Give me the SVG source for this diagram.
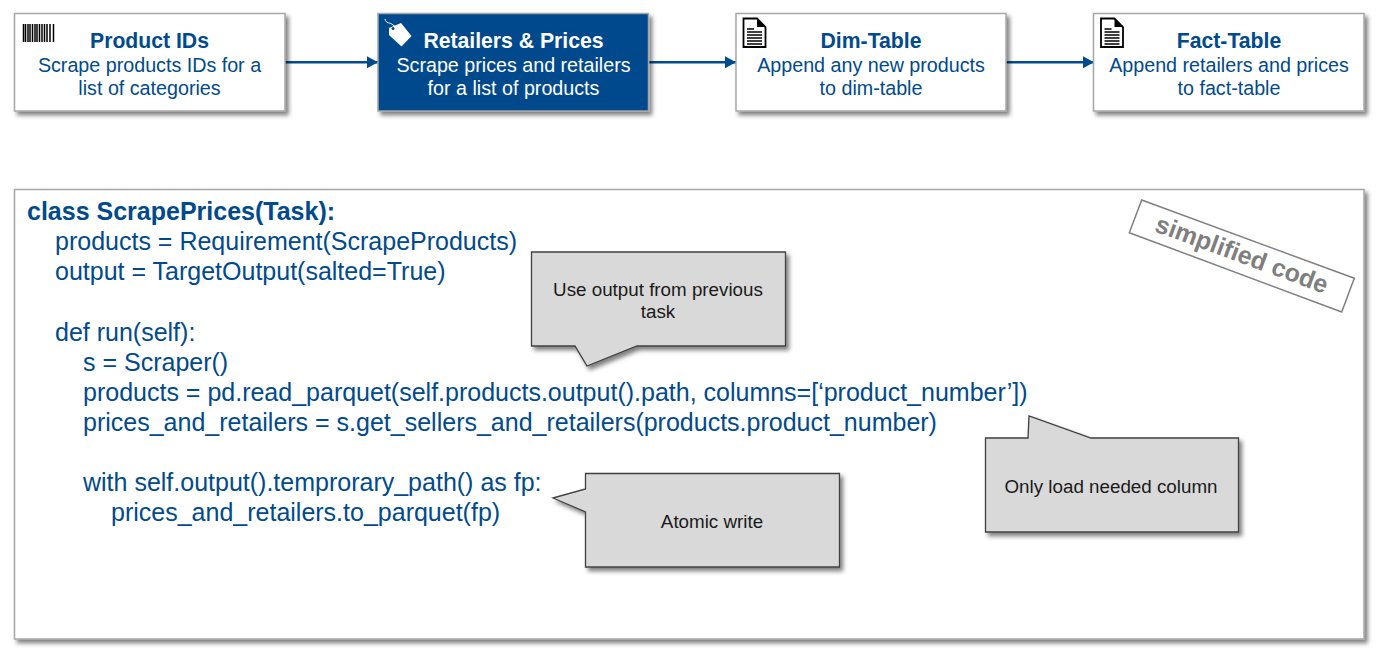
<svg xmlns="http://www.w3.org/2000/svg" width="1386" height="657" viewBox="0 0 1386 657">
<style>
text{font-family:"Liberation Sans",Arial,sans-serif}
.box{fill:#fff;stroke:#a6a6a6;stroke-width:1.5;filter:url(#sh)}
.dark{fill:#004a8d}
.t{font-size:21.2px;font-weight:700;fill:#004a8d;text-anchor:middle}
.s{font-size:19.700px;fill:#004a8d;text-anchor:middle}
.w{fill:#fff}
.c{font-size:25px;fill:#004a8d}
.n{fill:#d9d9d9;stroke:#404040;stroke-width:1.3;filter:url(#sh)}
.nt{font-size:18.800px;fill:#1a1a1a;text-anchor:middle}
.cn{stroke:#004a8d;stroke-width:2.5;fill:none;marker-end:url(#ah)}
</style>
<defs>
<filter id="sh" x="-5%" y="-10%" width="112%" height="125%"><feDropShadow dx="3" dy="3.5" stdDeviation="2.2" flood-color="#000" flood-opacity=".5"/></filter>
<marker id="ah" markerUnits="userSpaceOnUse" markerWidth="12" markerHeight="13" refX="11" refY="6.500" orient="auto"><path d="M0 .5L11 6.500L0 12.500Z" fill="#004a8d"/></marker>
</defs>
<rect width="1386" height="657" fill="#fff"/>
<g id="connectors">
<path class="cn" d="M284 62.300H378"/>
<path class="cn" d="M648 62.300H736"/>
<path class="cn" d="M1005 62.300H1094"/>
</g>
<g id="product-ids">
<rect class="box" x="14.500" y="13.500" width="270.500" height="97.500"/>
<path d="M23.500 24V42M25.500 24V42M28 24V42M30 24V42M32.500 24V42M35 24V42M37 24V42M39.500 24V42M42 24V42M44.500 24V42M47 24V42M50 24V42M53.500 24V42" stroke="#000" stroke-width="1.500"/>
<text class="t" x="149.500" y="47.500">Product IDs</text>
<text class="s" x="149.500" y="71.700">Scrape products IDs for a</text>
<text class="s" x="149.500" y="94.700">list of categories</text>
</g>
<g id="retailers-prices">
<rect class="box dark" x="378" y="13.500" width="270.500" height="97.500"/>
<path d="M389 28L401 23L411.500 36L401.500 46.500L389 35Z" fill="#fff"/>
<circle cx="393" cy="28.500" r="1.500" fill="#004a8d"/>
<path d="M385 19C386 24 390 22 393 25L396 27" fill="none" stroke="#fff" stroke-width="1"/>
<text class="t w" x="513.500" y="47.500">Retailers &amp; Prices</text>
<text class="s w" x="513.500" y="71.700">Scrape prices and retailers</text>
<text class="s w" x="513.500" y="94.700">for a list of products</text>
</g>
<g id="dim-table">
<rect class="box" x="736" y="13.500" width="270" height="97.500"/>
<path d="M743.500 18.500H757L765.500 27V47H743.500Z" fill="#fff" stroke="#000" stroke-width="1.800"/>
<path d="M757 18.500V27H765.500Z" fill="#000"/>
<path d="M747 29H754M747 32H762M747 35H762M747 38H762M747 41H762M747 44H762" stroke="#000" stroke-width="1.300"/>
<text class="t" x="871" y="47.500">Dim-Table</text>
<text class="s" x="871" y="71.700">Append any new products</text>
<text class="s" x="871" y="94.700">to dim-table</text>
</g>
<g id="fact-table">
<rect class="box" x="1093.500" y="13.500" width="270.500" height="97.500"/>
<path d="M1101 18.500H1114.500L1123 27V47H1101Z" fill="#fff" stroke="#000" stroke-width="1.800"/>
<path d="M1114.500 18.500V27H1123Z" fill="#000"/>
<path d="M1104.500 29H1111.500M1104.500 32H1119.500M1104.500 35H1119.500M1104.500 38H1119.500M1104.500 41H1119.500M1104.500 44H1119.500" stroke="#000" stroke-width="1.300"/>
<text class="t" x="1229" y="47.500">Fact-Table</text>
<text class="s" x="1229" y="71.700">Append retailers and prices</text>
<text class="s" x="1229" y="94.700">to fact-table</text>
</g>
<g id="code-panel">
<rect class="box" x="14.500" y="189.500" width="1349.500" height="449.500"/>
<text class="c" x="27" y="219.700" font-weight="700">class ScrapePrices(Task):</text>
<text class="c" x="55" y="249.700">products = Requirement(ScrapeProducts)</text>
<text class="c" x="55" y="279.700">output = TargetOutput(salted=True)</text>
<text class="c" x="55" y="340.500">def run(self):</text>
<text class="c" x="83" y="370.700">s = Scraper()</text>
<text class="c" x="83" y="400.700">products = pd.read_parquet(self.products.output().path, columns=[‘product_number’])</text>
<text class="c" x="83" y="430.700">prices_and_retailers = s.get_sellers_and_retailers(products.product_number)</text>
<text class="c" x="83" y="490.700">with self.output().temprorary_path() as fp:</text>
<text class="c" x="111" y="521">prices_and_retailers.to_parquet(fp)</text>
</g>
<g id="simplified-code">
<path d="M1141.700 200L1354.300 278.300L1341.700 312L1129.300 232.700Z" fill="none" stroke="#7f7f7f" stroke-width="1.500"/>
<text x="0" y="0" transform="translate(1239 262.300) rotate(20.200)" font-size="25" font-weight="700" fill="#7f7f7f" text-anchor="middle">simplified code</text>
</g>
<g id="note-previous">
<path class="n" d="M531.500 252H785.500V346H637L587 366L575 346H531.500Z"/>
<text class="nt" x="658" y="295.500">Use output from previous</text>
<text class="nt" x="658" y="317.500">task</text>
</g>
<g id="note-atomic">
<path class="n" d="M585.500 473.500H839.500V567H585.500V512L553 498L585.500 489Z"/>
<text class="nt" x="712" y="527.500">Atomic write</text>
</g>
<g id="note-column">
<path class="n" d="M985.500 438H1028L1029 416L1091 438H1238.500V532H985.500Z"/>
<text class="nt" x="1111" y="492.500">Only load needed column</text>
</g>
</svg>
